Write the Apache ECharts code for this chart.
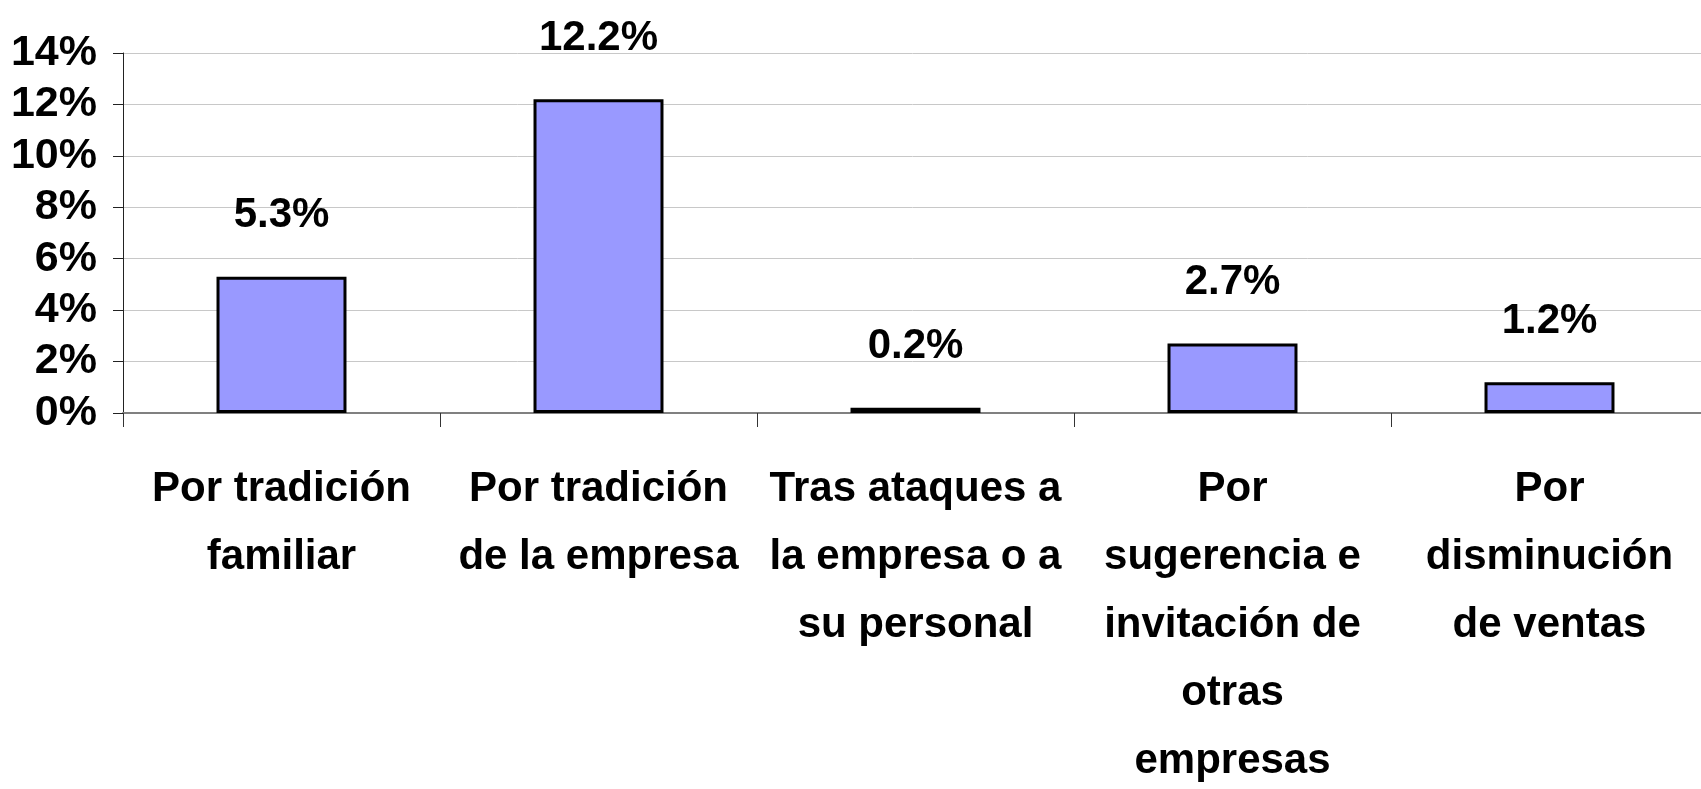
<!DOCTYPE html>
<html>
<head>
<meta charset="utf-8">
<script src="https://cdn.jsdelivr.net/npm/echarts@6/dist/echarts.min.js"></script>
<style>
    html, body { margin: 0; padding: 0; background: #fff; }
    #chart { width: 1701px; height: 789px; }
</style>
</head>
<body>
<div id="chart"></div>
<script>
    // categorias (saltos de linea como en el original)
    var categories = [
        'Por tradición\nfamiliar',
        'Por tradición\nde la empresa',
        'Tras ataques a\nla empresa o a\nsu personal',
        'Por\nsugerencia e\ninvitación de\notras\nempresas',
        'Por\ndisminución\nde ventas'
    ];
    var values = [5.3, 12.2, 0.2, 2.7, 1.2];
    var yTicks = { min: 0, max: 14, interval: 2 };

    var font = '"Liberation Sans", Arial, sans-serif';

    var chart = echarts.init(document.getElementById('chart'));
    chart.setOption({
        animation: false,
        grid: { left: 123, top: 53, bottom: 376, width: 1585, outerBoundsMode: 'none', containLabel: false },
        xAxis: {
            type: 'category',
            data: categories,
            axisLine: { lineStyle: { color: '#808080', width: 2 } },
            axisTick: { show: true, length: 14, lineStyle: { color: '#333' } },
            axisLabel: {
                interval: 0,
                margin: 42,
                fontFamily: font,
                fontWeight: 'bold',
                fontSize: 42,
                lineHeight: 68,
                color: '#000'
            }
        },
        yAxis: {
            type: 'value',
            min: yTicks.min,
            max: yTicks.max,
            interval: yTicks.interval,
            axisLine: { show: true, lineStyle: { color: '#222', width: 1 } },
            axisTick: { show: true, length: 10, lineStyle: { color: '#222' } },
            splitLine: { lineStyle: { color: '#c8c8c8', width: 1 } },
            axisLabel: {
                formatter: '{value}%',
                margin: 26,
                fontFamily: font,
                fontWeight: 'bold',
                fontSize: 43,
                color: '#000'
            }
        },
        series: [{
            type: 'bar',
            data: values,
            barWidth: '41%',
            itemStyle: { color: '#9999ff', borderColor: '#000', borderWidth: 3 },
            label: {
                show: true,
                position: 'top',
                distance: 40,
                formatter: function (p) { return p.value.toFixed(1) + '%'; },
                fontFamily: font,
                fontWeight: 'bold',
                fontSize: 42,
                color: '#000'
            }
        }]
    });
</script>
</body>
</html>
